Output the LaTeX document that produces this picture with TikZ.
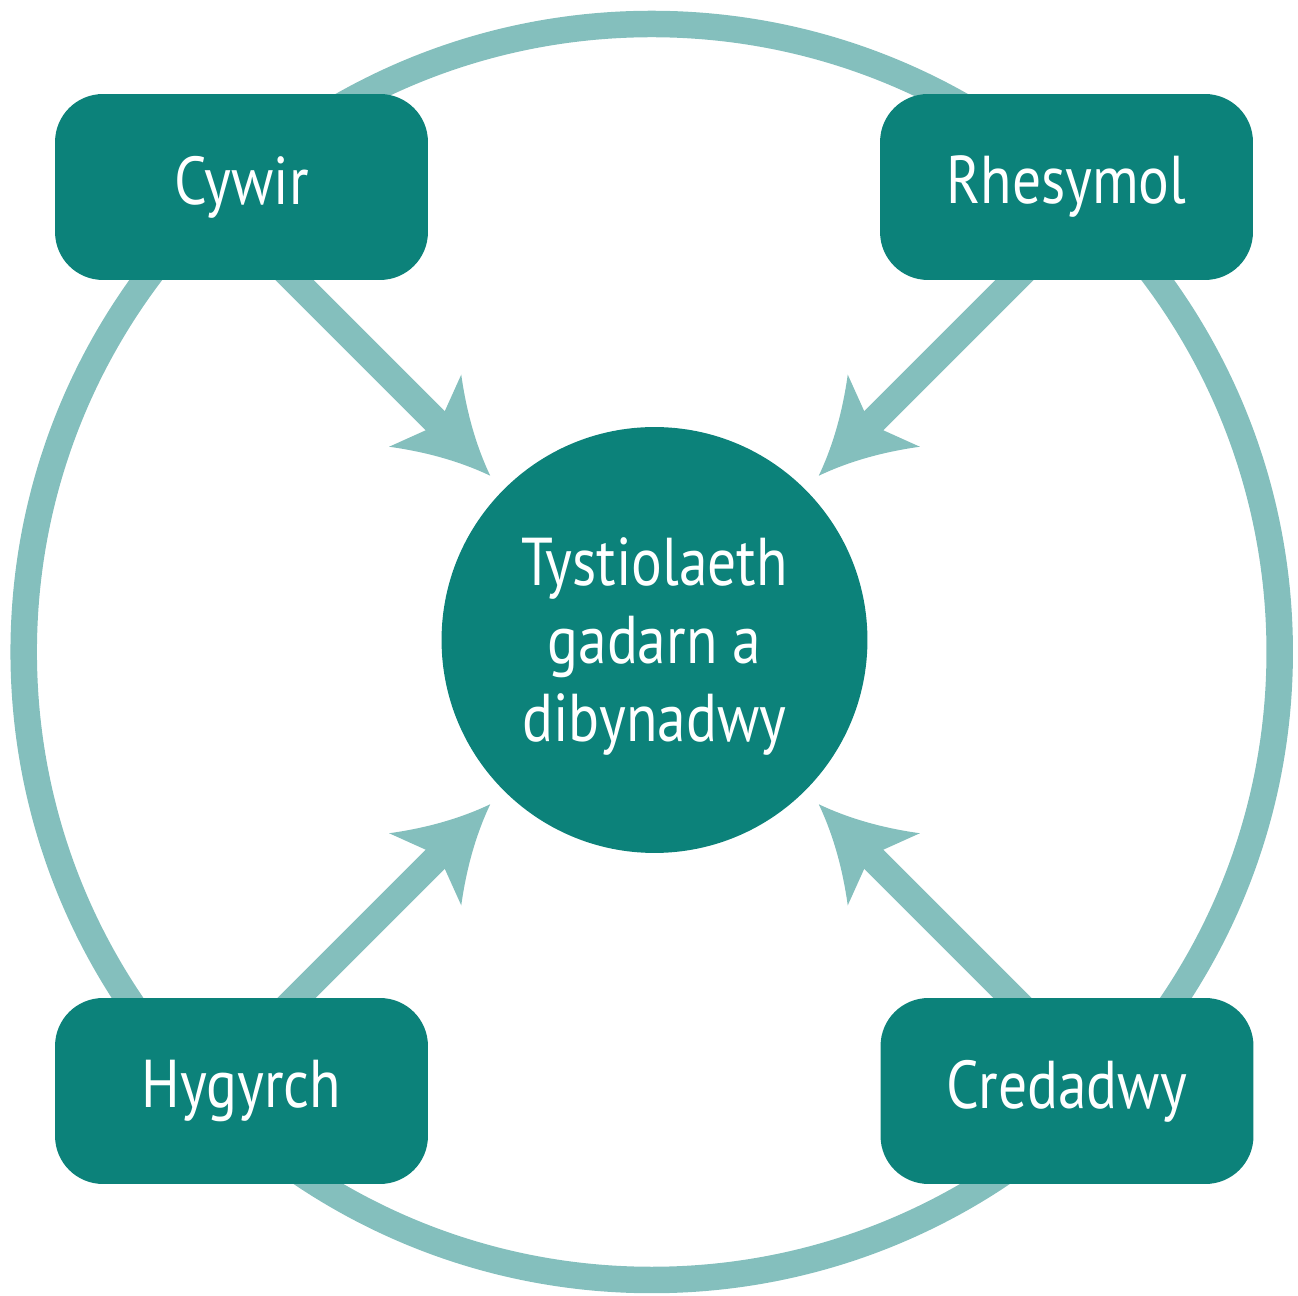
\documentclass[tikz,border=0pt]{standalone}
\usepackage{fontspec}
\setmainfont{PT Sans}[FakeStretch=0.85]
\usetikzlibrary{arrows.meta,calc,backgrounds}

\definecolor{tealdark}{RGB}{12,130,122}
\definecolor{teallight}{RGB}{132,191,189}

% swept arrow head with hollow sides
\pgfdeclarearrow{
  name = Swoop,
  parameters = {\the\pgfarrowlength,\the\pgfarrowwidth},
  setup code = {
    \pgfarrowssettipend{0pt}
    \pgfarrowssetbackend{-\pgfarrowlength}
    \pgfarrowssetlineend{-.7\pgfarrowlength}
    \pgfarrowssetvisualbackend{-.79\pgfarrowlength}
    \pgfarrowshullpoint{0pt}{0pt}
    \pgfarrowsupperhullpoint{-\pgfarrowlength}{.5\pgfarrowwidth}
    \pgfarrowssavethe\pgfarrowlength
    \pgfarrowssavethe\pgfarrowwidth
  },
  drawing code = {
    \pgfpathmoveto{\pgfpointorigin}
    \pgfpathcurveto{\pgfpoint{-.333\pgfarrowlength}{.107\pgfarrowwidth}}{\pgfpoint{-.667\pgfarrowlength}{.273\pgfarrowwidth}}{\pgfpoint{-\pgfarrowlength}{.5\pgfarrowwidth}}
    \pgfpathlineto{\pgfpoint{-.79\pgfarrowlength}{0pt}}
    \pgfpathlineto{\pgfpoint{-\pgfarrowlength}{-.5\pgfarrowwidth}}
    \pgfpathcurveto{\pgfpoint{-.667\pgfarrowlength}{-.273\pgfarrowwidth}}{\pgfpoint{-.333\pgfarrowlength}{-.107\pgfarrowwidth}}{\pgfpointorigin}
    \pgfpathclose
    \pgfusepathqfill
  },
  defaults = {length = 1cm, width = 1cm}
}

\begin{document}
\begin{tikzpicture}[x=0.02cm, y=0.02cm,
    quality/.style={rectangle, rounded corners=0.96cm, fill=tealdark, text=white,
        minimum width=7.46cm, minimum height=3.72cm, inner sep=0pt,
        font=\fontsize{38.5}{44}\selectfont},
    core/.style={circle, fill=tealdark, text=white, minimum size=8.52cm, inner sep=0pt,
        align=center, text depth=-0.1cm, font=\fontsize{38.5}{44.4}\selectfont},
    ring/.style={draw=teallight, line width=0.53cm},
    link/.style={draw=teallight, line width=0.54cm,
        -{Swoop[length=1.84cm, width=2.04cm]}, shorten >=0.38cm}]
    \useasboundingbox (0,0) rectangle (1298,1295);

    \node[core] (core) at (654.5,655) {Tystiolaeth\\gadarn a\\dibynadwy};
    \node[quality] (cywir) at (241.5,1108) {Cywir};
    \node[quality] (rhesymol) at (1066.5,1108) {Rhesymol};
    \node[quality] (hygyrch) at (241.5,204) {Hygyrch};
    \node[quality] (credadwy) at (1067,204) {Credadwy};

    \begin{scope}[on background layer]
        \draw[ring] (651.7,643) circle (628);
        \foreach \a in {45,135,225,315}
            \draw[link] ($(core.center)+(\a:560)$) -- (core.\a);
    \end{scope}
\end{tikzpicture}
\end{document}
